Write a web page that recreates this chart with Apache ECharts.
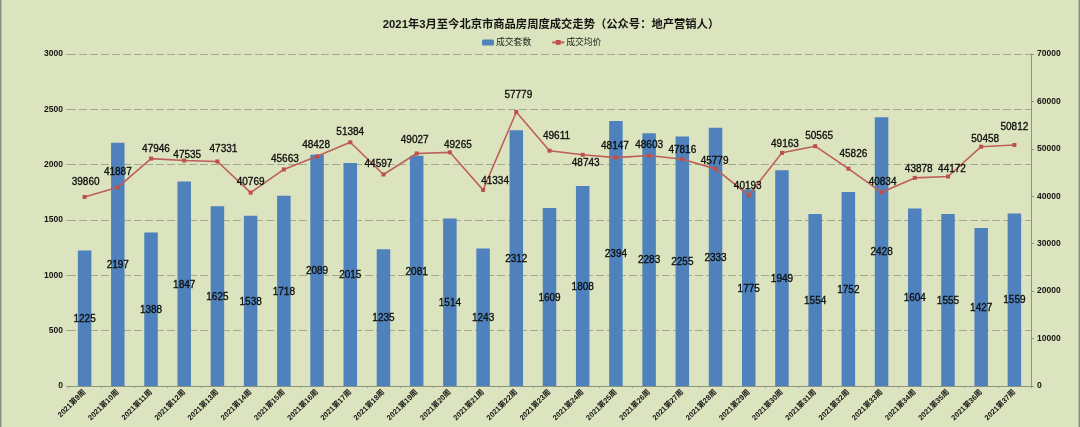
<!DOCTYPE html>
<html>
<head>
<meta charset="utf-8">
<style>
  html, body { margin: 0; padding: 0; background: #dbe3bf; }
  #chart-container { width: 1080px; height: 427px; box-sizing: border-box; }
</style>
<script src="https://cdn.jsdelivr.net/npm/echarts@6/dist/echarts.min.js"></script>
</head>
<body>
<div id="chart-container"></div>
<script>
const weeks = [
  "2021第9周", "2021第10周", "2021第11周", "2021第12周", "2021第13周", "2021第14周",
  "2021第15周", "2021第16周", "2021第17周", "2021第18周", "2021第19周", "2021第20周",
  "2021第21周", "2021第22周", "2021第23周", "2021第24周", "2021第25周", "2021第26周",
  "2021第27周", "2021第28周", "2021第29周", "2021第30周", "2021第31周", "2021第32周",
  "2021第33周", "2021第34周", "2021第35周", "2021第36周", "2021第37周"
]
const dealCounts = [
  1225, 2197, 1388, 1847, 1625, 1538, 1718, 2089, 2015, 1235, 2081, 1514, 1243, 2312, 1609,
  1808, 2394, 2283, 2255, 2333, 1775, 1949, 1554, 1752, 2428, 1604, 1555, 1427, 1559
]
const avgPrices = [
  39860, 41887, 47946, 47535, 47331, 40769, 45663, 48428, 51384, 44597, 49027, 49265, 41334, 57779, 49611,
  48743, 48147, 48603, 47816, 45779, 40193, 49163, 50565, 45826, 40834, 43878, 44172, 50458, 50812
]

// hand placed label nudges, the original labels were dragged around to dodge the line
const priceLabelNudge = [
  [1, -15], [0, -15], [5, -9], [3, -5], [6, -12], [0, -10], [1, -10], [-1, -11], [0, -10], [-5, -10],
  [-2, -13], [8, -7], [12, -9], [2, -17], [7, -14], [3, 8], [-1, -11], [0, -10], [0, -9], [-1, -8],
  [-1, -9], [3, -9], [4, -10], [5, -14], [1, -10], [4, -9], [4, -7], [4, -7], [0, -18]
]

const fontFamily = "'Liberation Sans', 'Noto Sans CJK SC', sans-serif"
const textColor = "#141612"
const axisGray = "#8e937f"

var dom = document.getElementById("chart-container")
var myChart = echarts.init(dom, null, { renderer: "canvas" })

var option = {
  animation: false,
  backgroundColor: "#dbe3bf",
  textStyle: { fontFamily: fontFamily },
  title: {
    text: "2021年3月至今北京市商品房周度成交走势（公众号：地产营销人）",
    left: 546,
    top: 14,
    textAlign: "center",
    textStyle: { fontSize: 11.3, fontWeight: "bold", color: textColor, fontFamily: fontFamily }
  },
  legend: {
    left: 477,
    top: 33,
    itemWidth: 12,
    itemHeight: 6,
    itemGap: 20,
    textStyle: { fontSize: 8.8, color: "#23261f", padding: [0, 0, 0, -3] },
    data: ["成交套数", "成交均价"]
  },
  grid: { left: 68, right: 49, top: 54, bottom: 41 },
  xAxis: {
    type: "category",
    data: weeks,
    axisLine: { lineStyle: { color: axisGray, width: 1 } },
    axisTick: { show: true, length: 2, inside: false, lineStyle: { color: axisGray } },
    axisLabel: {
      rotate: 45,
      interval: 0,
      fontSize: 7.5,
      fontWeight: "bold",
      margin: 5,
      color: textColor
    }
  },
  yAxis: [
    {
      type: "value",
      min: 0,
      max: 3000,
      interval: 500,
      axisLine: { show: false },
      axisTick: { show: true, length: 2, lineStyle: { color: "#a3a88f" } },
      axisLabel: {
        fontSize: 8.5,
        fontWeight: "bold",
        margin: 5,
        color: textColor,
        formatter: (v) => String(v)
      },
      splitLine: { show: true, lineStyle: { color: "#a3a88f", width: 1, type: [8, 3] } }
    },
    {
      type: "value",
      min: 0,
      max: 70000,
      interval: 10000,
      position: "right",
      axisLine: { show: true, lineStyle: { color: axisGray, width: 1 } },
      axisTick: { show: true, length: 3, lineStyle: { color: axisGray } },
      axisLabel: {
        fontSize: 8.5,
        fontWeight: "bold",
        margin: 6,
        color: textColor,
        formatter: (v) => String(v)
      },
      splitLine: { show: false }
    }
  ],
  series: [
    {
      name: "成交套数",
      type: "bar",
      barWidth: 13.5,
      itemStyle: { color: "#4f81bd" },
      label: {
        show: true,
        position: "inside",
        offset: [0, 1],
        fontSize: 10,
        color: "#0c0e0a",
        textBorderColor: "#0c0e0a",
        textBorderWidth: 0.3
      },
      data: dealCounts
    },
    {
      name: "成交均价",
      type: "line",
      yAxisIndex: 1,
      symbol: "rect",
      symbolSize: 4,
      lineStyle: { color: "#bd5f58", width: 1.6 },
      itemStyle: { color: "#bd4f4d" },
      label: {
        show: true,
        position: "top",
        distance: 0,
        fontSize: 10,
        color: "#0c0e0a",
        textBorderColor: "#0c0e0a",
        textBorderWidth: 0.3
      },
      data: avgPrices.map((value, idx) => ({
        value,
        label: { offset: [priceLabelNudge[idx][0], priceLabelNudge[idx][1] + 7] }
      }))
    }
  ],
  graphic: [
    { type: "rect", left: 0, top: 0, shape: { width: 1.5, height: 427 }, style: { fill: "#8b9080" } },
    { type: "rect", right: 0, top: 0, shape: { width: 1.5, height: 427 }, style: { fill: "#8b9080" } }
  ]
}

myChart.setOption(option)
window.addEventListener("resize", myChart.resize)
</script>
</body>
</html>
